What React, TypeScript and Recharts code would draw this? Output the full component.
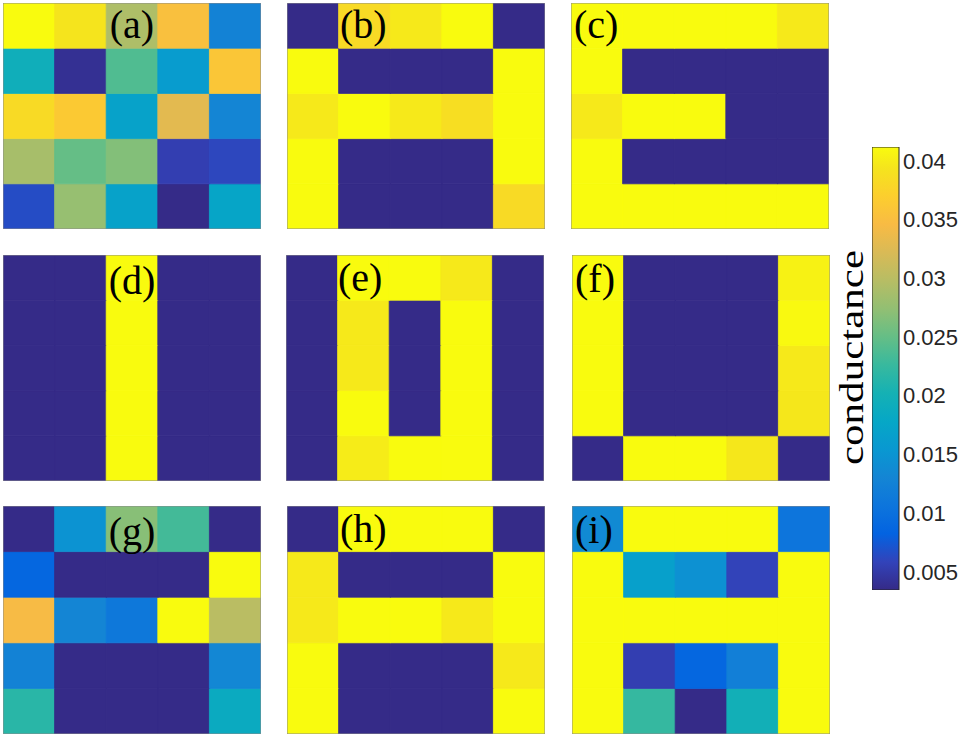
import { BarChart, Bar, Cell, XAxis, YAxis } from 'recharts';

// colour limits of the colour bar
const CMIN = 0.00344;
const CMAX = 0.04119;

const COLS = ['1', '2', '3', '4', '5'];

// conductance maps, rows listed top to bottom
const PANEL_A = [
  [0.0412, 0.0394, 0.0292, 0.0352, 0.0126],
  [0.0194, 0.004, 0.0239, 0.016, 0.036],
  [0.0383, 0.0364, 0.0171, 0.033, 0.013],
  [0.0288, 0.025, 0.0266, 0.0054, 0.0061],
  [0.0065, 0.0277, 0.0171, 0.0035, 0.0175],
];
const PANEL_B = [
  [0.0035, 0.0383, 0.0398, 0.0412, 0.0035],
  [0.0412, 0.0035, 0.0035, 0.0035, 0.0412],
  [0.0398, 0.0412, 0.0398, 0.0387, 0.0412],
  [0.0412, 0.0035, 0.0035, 0.0035, 0.0412],
  [0.0412, 0.0035, 0.0035, 0.0035, 0.0383],
];
const PANEL_C = [
  [0.0412, 0.0412, 0.0412, 0.0412, 0.0398],
  [0.0412, 0.0035, 0.0035, 0.0035, 0.0035],
  [0.0398, 0.0412, 0.0412, 0.0035, 0.0035],
  [0.0412, 0.0035, 0.0035, 0.0035, 0.0035],
  [0.0412, 0.0412, 0.0412, 0.0412, 0.0412],
];
const PANEL_D = [
  [0.0035, 0.0035, 0.0412, 0.0035, 0.0035],
  [0.0035, 0.0035, 0.0412, 0.0035, 0.0035],
  [0.0035, 0.0035, 0.0412, 0.0035, 0.0035],
  [0.0035, 0.0035, 0.0412, 0.0035, 0.0035],
  [0.0035, 0.0035, 0.0412, 0.0035, 0.0035],
];
const PANEL_E = [
  [0.0035, 0.0412, 0.0412, 0.0398, 0.0035],
  [0.0035, 0.0398, 0.0035, 0.0412, 0.0035],
  [0.0035, 0.0398, 0.0035, 0.0412, 0.0035],
  [0.0035, 0.0412, 0.0035, 0.0412, 0.0035],
  [0.0035, 0.04, 0.0412, 0.0412, 0.0035],
];
const PANEL_F = [
  [0.0412, 0.0035, 0.0035, 0.0035, 0.0405],
  [0.0412, 0.0035, 0.0035, 0.0035, 0.041],
  [0.0412, 0.0035, 0.0035, 0.0035, 0.0398],
  [0.0412, 0.0035, 0.0035, 0.0035, 0.0396],
  [0.0035, 0.0412, 0.0412, 0.0396, 0.0035],
];
const PANEL_G = [
  [0.0035, 0.0148, 0.0269, 0.0232, 0.0035],
  [0.0088, 0.0035, 0.0035, 0.0035, 0.0412],
  [0.0345, 0.013, 0.0111, 0.0412, 0.03],
  [0.0126, 0.0035, 0.0035, 0.0035, 0.0133],
  [0.0216, 0.0035, 0.0035, 0.0035, 0.0186],
];
const PANEL_H = [
  [0.0035, 0.0412, 0.0412, 0.0412, 0.0035],
  [0.0398, 0.0035, 0.0035, 0.0035, 0.0412],
  [0.0398, 0.0412, 0.0412, 0.0398, 0.0412],
  [0.0412, 0.0035, 0.0035, 0.0035, 0.0398],
  [0.0412, 0.0035, 0.0035, 0.0035, 0.0412],
];
const PANEL_I = [
  [0.0137, 0.0412, 0.0412, 0.0412, 0.0107],
  [0.0412, 0.0167, 0.0145, 0.0058, 0.0412],
  [0.0412, 0.0412, 0.0412, 0.0412, 0.0412],
  [0.0412, 0.0054, 0.0088, 0.0122, 0.0412],
  [0.0412, 0.0224, 0.0035, 0.0198, 0.0412],
];

const TICKS_WHOLE = [1, 2, 3, 4, 5];
const TICKS_HALF = [1, 1.5, 2, 2.5, 3, 3.5, 4, 4.5, 5];
const ROW_TICKS = [0.5, 1.5, 2.5, 3.5, 4.5];
const CB_TICKS = [0.005, 0.01, 0.015, 0.02, 0.025, 0.03, 0.035, 0.04];

// parula colormap, every 4th entry of the 64-step table
const PARULA: number[][] = [
  [53, 42, 135], [50, 67, 186], [3, 99, 225], [13, 117, 220], [20, 133, 212],
  [9, 152, 209], [6, 167, 198], [21, 177, 180], [56, 185, 158], [101, 190, 134],
  [146, 191, 115], [183, 189, 100], [217, 186, 86], [248, 187, 68], [252, 206, 46],
  [245, 228, 29], [249, 251, 14],
];
const PARULA_POS = [0, 4, 8, 12, 16, 20, 24, 28, 32, 36, 40, 44, 48, 52, 56, 60, 63].map((k) => k / 63);

function parulaAt(t: number) {
  const u = Math.max(0, Math.min(1, t));
  let k = 0;
  while (k < PARULA_POS.length - 2 && u > PARULA_POS[k + 1]) k++;
  const f = (u - PARULA_POS[k]) / (PARULA_POS[k + 1] - PARULA_POS[k]);
  const c = PARULA[k].map((a, i) => Math.round(a + (PARULA[k + 1][i] - a) * f));
  return `rgb(${c[0]},${c[1]},${c[2]})`;
}
const colorOf = (v: number) => parulaAt((v - CMIN) / (CMAX - CMIN));

const AXIS = '#8c8c8c';
const PW = 256;

const PANELS = [
  { grid: PANEL_A, left: 4, top: 4, h: 224, ticks: TICKS_WHOLE },
  { grid: PANEL_B, left: 288, top: 4, h: 224, ticks: TICKS_HALF },
  { grid: PANEL_C, left: 572, top: 4, h: 224, ticks: TICKS_HALF },
  { grid: PANEL_D, left: 4, top: 256, h: 224, ticks: TICKS_HALF },
  { grid: PANEL_E, left: 287, top: 256, h: 224, ticks: TICKS_HALF },
  { grid: PANEL_F, left: 573, top: 256, h: 224, ticks: TICKS_HALF },
  { grid: PANEL_G, left: 4, top: 507, h: 226, ticks: TICKS_WHOLE },
  { grid: PANEL_H, left: 288, top: 507, h: 226, ticks: TICKS_HALF },
  { grid: PANEL_I, left: 573, top: 507, h: 226, ticks: TICKS_HALF },
];

const LABELS = [
  { text: '(a)', x: 132, y: 38, anchor: 'middle' },
  { text: '(b)', x: 340, y: 38, anchor: 'start' },
  { text: '(c)', x: 574, y: 38, anchor: 'start' },
  { text: '(d)', x: 132, y: 294, anchor: 'middle' },
  { text: '(e)', x: 338, y: 291, anchor: 'start' },
  { text: '(f)', x: 575, y: 292, anchor: 'start' },
  { text: '(g)', x: 132, y: 545, anchor: 'middle' },
  { text: '(h)', x: 340, y: 542, anchor: 'start' },
  { text: '(i)', x: 575, y: 543, anchor: 'start' },
];

function Heatmap({ grid, left, top, h, ticks }: any) {
  const data = COLS.map((col) => {
    const d: any = { col };
    grid.forEach((_: any, i: number) => { d['r' + i] = 1; });
    return d;
  });
  const tickLine = { stroke: AXIS, strokeWidth: 1 };
  const axisLine = { stroke: AXIS, strokeWidth: 1 };
  const size = { width: PW + 2, height: h + 2, data, margin: { top: 0, right: 0, bottom: 0, left: 0 }, barCategoryGap: 0, barGap: 0 };
  return (
    <div style={{ position: 'absolute', left: left - 1, top: top - 1 }}>
      {/* cells */}
      <BarChart {...size}>
        <XAxis xAxisId="cat" dataKey="col" hide />
        <YAxis yAxisId="v" type="number" domain={[0, 5]} allowDataOverflow hide />
        {[4, 3, 2, 1, 0].map((i) => (
          <Bar key={i} dataKey={'r' + i} stackId="s" xAxisId="cat" yAxisId="v" isAnimationActive={false}>
            {grid[i].map((v: number, j: number) => (
              <Cell key={j} fill={colorOf(v)} stroke={colorOf(v)} strokeWidth={0.8} />
            ))}
          </Bar>
        ))}
      </BarChart>
      {/* box and inward ticks, laid over the cells */}
      <div style={{ position: 'absolute', left: 0, top: 0 }}>
        <BarChart {...size}>
          <XAxis xAxisId="cat" dataKey="col" hide />
          <YAxis yAxisId="v" type="number" domain={[0, 5]} allowDataOverflow ticks={ROW_TICKS} mirror width={1}
            tick={false} tickSize={4} tickLine={tickLine} axisLine={axisLine} />
          <Bar dataKey="r0" xAxisId="cat" yAxisId="v" fill="none" stroke="none" isAnimationActive={false} />
          <XAxis xAxisId="b" type="number" domain={[0.5, 5.5]} allowDataOverflow ticks={ticks} mirror height={1}
            tick={false} tickSize={4} tickLine={tickLine} axisLine={axisLine} />
          <XAxis xAxisId="t" orientation="top" type="number" domain={[0.5, 5.5]} allowDataOverflow ticks={ticks} mirror height={1}
            tick={false} tickSize={4} tickLine={tickLine} axisLine={axisLine} />
          <YAxis yAxisId="r" orientation="right" type="number" domain={[0, 5]} allowDataOverflow ticks={ROW_TICKS} mirror width={1}
            tick={false} tickSize={4} tickLine={tickLine} axisLine={axisLine} />
        </BarChart>
      </div>
    </div>
  );
}

function ColorBar() {
  const data = [{ name: 'cb', range: [CMIN, CMAX] }];
  const stops = PARULA_POS.map((p, i) => (
    <stop key={i} offset={p} stopColor={`rgb(${PARULA[i].join(',')})`} />
  ));
  const size = { width: 91, height: 463, data, margin: { top: 10, right: 0, bottom: 10, left: 0 }, barCategoryGap: 0 };
  return (
    <div style={{ position: 'absolute', left: 872, top: 137 }}>
      <BarChart {...size}>
        <defs>
          <linearGradient id="parulaGrad" x1="0" y1="1" x2="0" y2="0">{stops}</linearGradient>
        </defs>
        <XAxis dataKey="name" hide />
        <YAxis yAxisId="line" orientation="right" type="number" domain={[CMIN, CMAX]} allowDataOverflow ticks={CB_TICKS}
          mirror width={1} tick={false} axisLine={false} tickLine={false} />
        <YAxis yAxisId="v" orientation="right" type="number" domain={[CMIN, CMAX]} allowDataOverflow ticks={CB_TICKS}
          width={64} tickSize={0} tickMargin={4} axisLine={false} tickLine={false}
          tick={{ fill: '#262626', fontSize: 22, fontFamily: 'Liberation Sans, Arial, sans-serif' }}
          tickFormatter={(v: number) => String(v)} />
        <Bar dataKey="range" yAxisId="v" fill="url(#parulaGrad)" stroke="#262626" strokeWidth={1} isAnimationActive={false} />
      </BarChart>
      {/* inward tick marks on the right edge of the bar */}
      <div style={{ position: 'absolute', left: 0, top: 0 }}>
        <BarChart {...size}>
          <XAxis dataKey="name" hide />
          <YAxis yAxisId="line" orientation="right" type="number" domain={[CMIN, CMAX]} allowDataOverflow ticks={CB_TICKS}
            mirror width={1} tick={false} tickSize={5} axisLine={false} tickLine={{ stroke: '#262626' }} />
          <YAxis yAxisId="v" orientation="right" type="number" domain={[CMIN, CMAX]} allowDataOverflow ticks={CB_TICKS}
            width={64} tick={false} axisLine={false} tickLine={false} />
          <Bar dataKey="range" yAxisId="v" fill="none" stroke="none" isAnimationActive={false} />
        </BarChart>
      </div>
    </div>
  );
}

export default function App() {
  return (
    <div style={{ position: 'absolute', left: 0, top: 0, width: 963, height: 738, background: '#fff', overflow: 'hidden' }}>
      {PANELS.map((p, i) => <Heatmap key={i} {...p} />)}
      <ColorBar />
      <svg width={963} height={738} style={{ position: 'absolute', left: 0, top: 0, pointerEvents: 'none' }}>
        {LABELS.map((l) => (
          <text key={l.text} x={l.x} y={l.y} textAnchor={l.anchor as any} fontSize={40}
            fontFamily="Liberation Serif, Times New Roman, serif" fill="#000">{l.text}</text>
        ))}
        <text transform="translate(863,357.5) rotate(-90)" textAnchor="middle" fontSize={34}
          fontFamily="Liberation Serif, Times New Roman, serif" fill="#000"
          textLength={215} lengthAdjust="spacingAndGlyphs">conductance</text>
      </svg>
    </div>
  );
}
